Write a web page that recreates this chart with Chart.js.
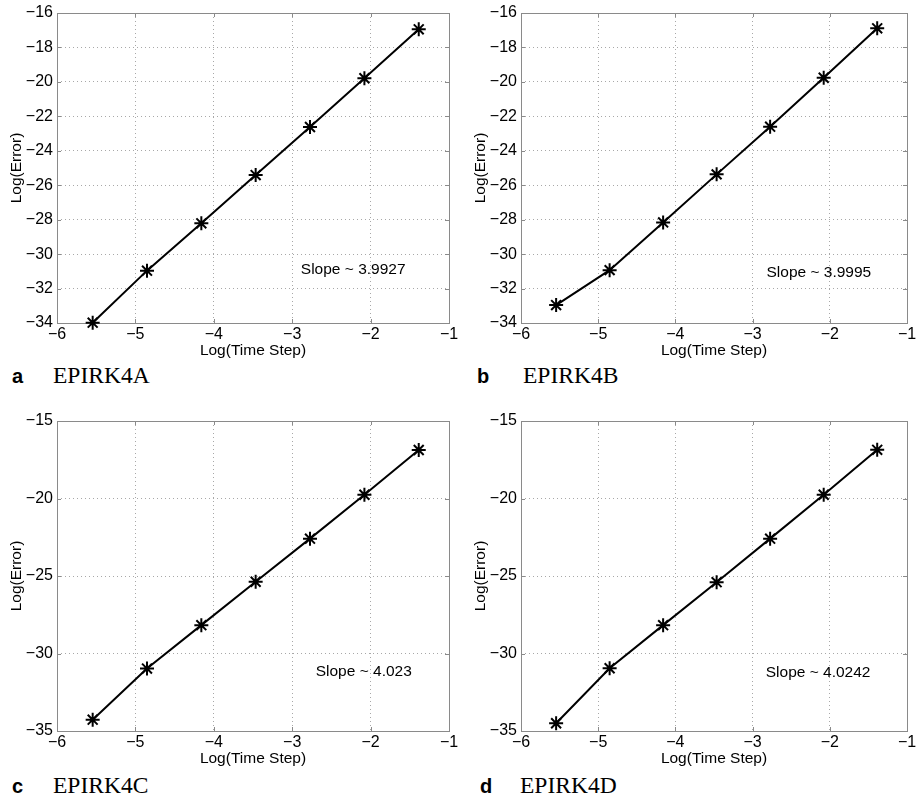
<!DOCTYPE html>
<html>
<head>
<meta charset="utf-8">
<script src="https://cdn.jsdelivr.net/npm/chart.js@4"></script>
<style>
  body { margin: 0; background: #fff; width: 916px; height: 801px; position: relative; overflow: hidden; }
  .panel { position: absolute; }
  .cap { position: absolute; white-space: nowrap; }
  .cap b { font: bold 20px "Liberation Sans", Arial, sans-serif; position: absolute; left: 0; bottom: 0; }
  .cap span { font: 23.5px "Liberation Serif", "DejaVu Serif", serif; position: absolute; bottom: -1px; }
</style>
</head>
<body>
<canvas id="chartA" class="panel" width="458" height="360" style="left:0;top:0"></canvas>
<canvas id="chartB" class="panel" width="452" height="360" style="left:464px;top:0"></canvas>
<canvas id="chartC" class="panel" width="458" height="360" style="left:0;top:408px"></canvas>
<canvas id="chartD" class="panel" width="452" height="360" style="left:464px;top:408px"></canvas>

<div class="cap" style="left:12px;top:388px"><b>a</b><span style="left:41px">EPIRK4A</span></div>
<div class="cap" style="left:477px;top:388px"><b>b</b><span style="left:46px">EPIRK4B</span></div>
<div class="cap" style="left:12px;top:798px"><b>c</b><span style="left:41px">EPIRK4C</span></div>
<div class="cap" style="left:480px;top:798px"><b>d</b><span style="left:40px">EPIRK4D</span></div>

<script>
// log of the time step (same for all four runs)
const logStep = [-5.545, -4.852, -4.159, -3.466, -2.773, -2.079, -1.386];

// log of the error, per scheme
const errA = [-33.98, -30.96, -28.21, -25.41, -22.62, -19.79, -16.95];
const errB = [-32.96, -30.93, -28.16, -25.37, -22.60, -19.76, -16.89];
const errC = [-34.27, -30.97, -28.17, -25.37, -22.59, -19.76, -16.87];
const errD = [-34.50, -30.95, -28.17, -25.40, -22.59, -19.76, -16.86];

const slopeText = ['Slope ~ 3.9927', 'Slope ~ 3.9995', 'Slope ~ 4.023', 'Slope ~ 4.0242'];

const xTicks = [-6, -5, -4, -3, -2, -1];
const yTicksTop = [-34, -32, -30, -28, -26, -24, -22, -20, -18, -16];
const yTicksBottom = [-35, -30, -25, -20, -15];

Chart.defaults.font.family = '"Liberation Sans", Arial, Helvetica, sans-serif';
Chart.defaults.color = '#000';

const frameColor = '#8a8a8a';

// solid box round the plot with small inward ticks, like matlab
const boxPlugin = {
  id: 'box',
  beforeDatasetsDraw(chart) {
    const {ctx, chartArea: a, scales} = chart;
    ctx.save();
    ctx.strokeStyle = frameColor;
    ctx.lineWidth = 1;
    ctx.beginPath();
    scales.x.ticks.forEach(t => {
      const px = Math.round(scales.x.getPixelForValue(t.value)) + 0.5;
      ctx.moveTo(px, a.bottom); ctx.lineTo(px, a.bottom - 4);
      ctx.moveTo(px, a.top); ctx.lineTo(px, a.top + 4);
    });
    scales.y.ticks.forEach(t => {
      const py = Math.round(scales.y.getPixelForValue(t.value)) + 0.5;
      ctx.moveTo(a.left, py); ctx.lineTo(a.left + 4, py);
      ctx.moveTo(a.right, py); ctx.lineTo(a.right - 4, py);
    });
    ctx.stroke();
    ctx.strokeRect(Math.round(a.left) + 0.5, Math.round(a.top) + 0.5,
                   Math.round(a.right - a.left), Math.round(a.bottom - a.top));
    ctx.restore();
  }
};

const notePlugin = {
  id: 'note',
  afterDatasetsDraw(chart, args, opts) {
    if (!opts.text) return;
    const {ctx, scales} = chart;
    ctx.save();
    ctx.font = '15.5px "Liberation Sans", Arial, sans-serif';
    ctx.fillStyle = '#000';
    ctx.textAlign = 'left';
    ctx.textBaseline = 'middle';
    ctx.fillText(opts.text, scales.x.getPixelForValue(opts.x), scales.y.getPixelForValue(opts.y));
    ctx.restore();
  }
};

function minus(v) {
  return String(v).replace('-', '\u2212');
}

function makePanel(id, errs, yTicks, note, padRight) {
  const yMin = yTicks[0], yMax = yTicks[yTicks.length - 1];
  new Chart(document.getElementById(id), {
    type: 'scatter',
    data: {
      datasets: [{
        data: logStep.map((x, i) => ({x: x, y: errs[i]})),
        showLine: true,
        clip: false,
        borderColor: '#000',
        borderWidth: 2,
        tension: 0,
        pointStyle: 'star',
        pointRadius: 7,
        pointBorderWidth: 2,
        pointBorderColor: '#000',
        pointBackgroundColor: '#000'
      }]
    },
    options: {
      responsive: false,
      animation: false,
      devicePixelRatio: 1,
      layout: { padding: { top: 13, right: padRight, left: 0, bottom: 0 } },
      plugins: {
        legend: { display: false },
        tooltip: { enabled: false },
        note: note
      },
      scales: {
        x: {
          type: 'linear',
          min: xTicks[0], max: xTicks[xTicks.length - 1],
          afterBuildTicks: s => { s.ticks = xTicks.map(v => ({value: v})); },
          afterFit: s => { s.height = 37; s.paddingLeft = 0; s.paddingRight = 0; },
          ticks: { padding: 2, font: { size: 16 }, callback: v => minus(v), maxRotation: 0, autoSkip: false },
          grid: { color: '#a8a8a8', lineWidth: 1, drawTicks: false },
          border: { display: false, dash: [1, 3] },
          title: { display: true, text: 'Log(Time Step)', font: { size: 15.5 }, padding: { top: 0, bottom: 0 } }
        },
        y: {
          type: 'linear',
          min: yMin, max: yMax,
          afterBuildTicks: s => { s.ticks = yTicks.map(v => ({value: v})); },
          afterFit: s => { s.width = 57; s.paddingTop = 0; s.paddingBottom = 0; },
          ticks: { padding: 4, font: { size: 16 }, callback: v => minus(v), autoSkip: false },
          grid: { color: '#a8a8a8', lineWidth: 1, drawTicks: false },
          border: { display: false, dash: [1, 3] },
          title: { display: true, text: 'Log(Error)', font: { size: 15.5 }, padding: { top: 7, bottom: 0 } }
        }
      }
    },
    plugins: [boxPlugin, notePlugin]
  });
}

makePanel('chartA', errA, yTicksTop, { text: slopeText[0], x: -2.89, y: -30.92 }, 8);
makePanel('chartB', errB, yTicksTop, { text: slopeText[1], x: -2.82, y: -31.08 }, 2);
makePanel('chartC', errC, yTicksBottom, { text: slopeText[2], x: -2.70, y: -31.18 }, 8);
makePanel('chartD', errD, yTicksBottom, { text: slopeText[3], x: -2.83, y: -31.25 }, 2);
</script>
</body>
</html>
